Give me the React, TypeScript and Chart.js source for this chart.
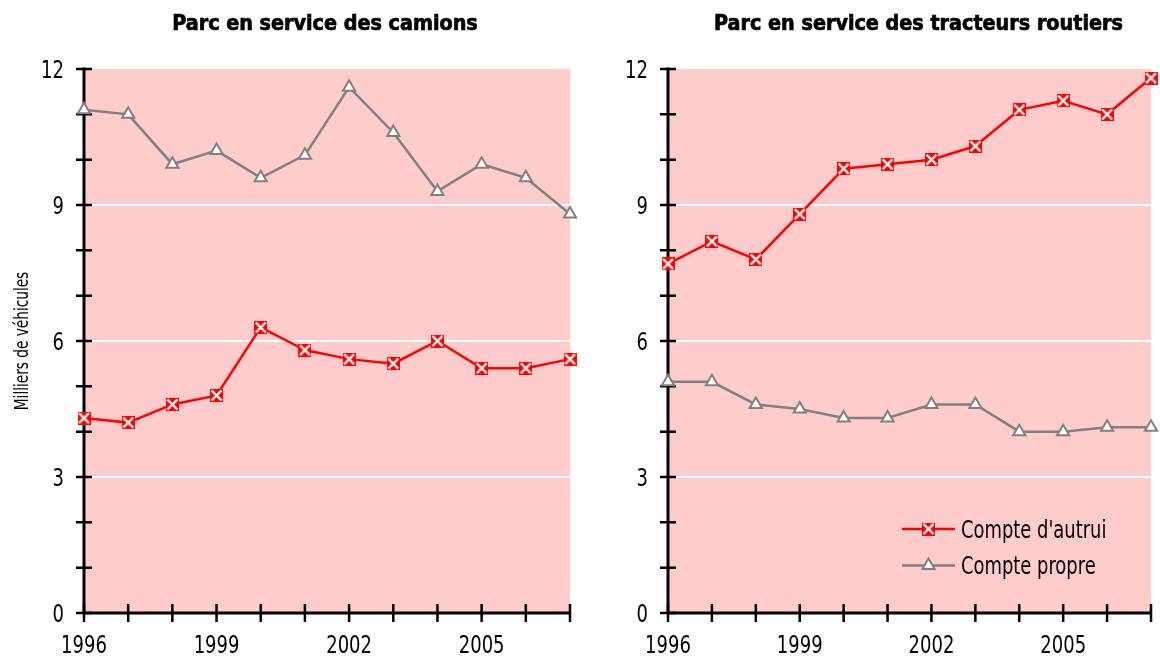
import React, { useEffect, useRef } from 'react';
import { Chart, registerables } from 'chart.js';

Chart.register(...registerables);

// ---- Data ----
const years = ['1996', '1997', '1998', '1999', '2000', '2001', '2002', '2003', '2004', '2005', '2006', '2007'];
const xTickLabels = ['1996', '1999', '2002', '2005'];
const yTickLabels = [0, 3, 6, 9, 12];
const seriesLabels = ["Compte d'autrui", 'Compte propre'];

const camionsAutrui = [4.3, 4.2, 4.6, 4.8, 6.3, 5.8, 5.6, 5.5, 6.0, 5.4, 5.4, 5.6];
const camionsPropre = [11.1, 11.0, 9.9, 10.2, 9.6, 10.1, 11.6, 10.6, 9.3, 9.9, 9.6, 8.8];
const tracteursAutrui = [7.7, 8.2, 7.8, 8.8, 9.8, 9.9, 10.0, 10.3, 11.1, 11.3, 11.0, 11.8];
const tracteursPropre = [5.1, 5.1, 4.6, 4.5, 4.3, 4.3, 4.6, 4.6, 4.0, 4.0, 4.1, 4.1];

const titleLeft = 'Parc en service des camions';
const titleRight = 'Parc en service des tracteurs routiers';
const yAxisTitle = 'Milliers de véhicules';

// ---- Styles ----
const FONT = '"DejaVu Sans Condensed", "DejaVu Sans", sans-serif';
const RED = '#ff0000';
const GREY = '#808080';
const PINK = '#ffcccc';

function makeCrossMarker(): HTMLCanvasElement {
  const s = 13;
  const c = document.createElement('canvas');
  c.width = s;
  c.height = s;
  const ctx = c.getContext('2d')!;
  ctx.fillStyle = RED;
  ctx.fillRect(0, 0, s, s);
  ctx.strokeStyle = '#ffffff';
  ctx.lineWidth = 2.4;
  ctx.beginPath();
  ctx.moveTo(1.5, 1.5);
  ctx.lineTo(s - 1.5, s - 1.5);
  ctx.moveTo(s - 1.5, 1.5);
  ctx.lineTo(1.5, s - 1.5);
  ctx.stroke();
  return c;
}

function scaledText(ctx: CanvasRenderingContext2D, text: string, x: number, y: number, align: CanvasTextAlign, sx: number, rot = 0) {
  ctx.save();
  ctx.translate(x, y);
  if (rot) ctx.rotate(rot);
  ctx.scale(sx, 1);
  ctx.textAlign = align;
  ctx.textBaseline = 'alphabetic';
  ctx.fillText(text, 0, 0);
  ctx.restore();
}

const framePlugin = {
  id: 'frame',
  beforeDraw(chart: any) {
    const { ctx, chartArea } = chart;
    ctx.save();
    ctx.fillStyle = PINK;
    ctx.fillRect(chartArea.left, chartArea.top, chartArea.right - chartArea.left, chartArea.bottom - chartArea.top);
    ctx.restore();
  },
  beforeDatasetsDraw(chart: any) {
    const { ctx, chartArea } = chart;
    const xs = chart.scales.x;
    const ys = chart.scales.y;
    const x0 = chartArea.left;
    const y0 = ys.getPixelForValue(0);
    ctx.save();
    ctx.strokeStyle = '#000';
    ctx.lineWidth = 3;
    ctx.beginPath();
    ctx.moveTo(x0, ys.getPixelForValue(ys.max) - 1.5);
    ctx.lineTo(x0, y0);
    ctx.moveTo(x0, y0);
    ctx.lineTo(chartArea.right, y0);
    ctx.stroke();
    ctx.lineWidth = 2.5;
    ctx.beginPath();
    ys.ticks.forEach((t: any) => {
      const py = ys.getPixelForValue(t.value);
      ctx.moveTo(x0 - 8, py);
      ctx.lineTo(x0 + 8, py);
    });
    xs.ticks.forEach((_t: any, i: number) => {
      const px = xs.getPixelForValue(i);
      ctx.moveTo(px, y0 - 9);
      ctx.lineTo(px, y0 + 9);
    });
    ctx.stroke();
    ctx.restore();
  },
  afterDraw(chart: any, _args: any, opts: any) {
    const { ctx, chartArea } = chart;
    const xs = chart.scales.x;
    const ys = chart.scales.y;
    ctx.save();
    ctx.fillStyle = '#000';

    // title
    ctx.font = `bold 22px ${FONT}`;
    ctx.save();
    ctx.translate((chartArea.left + chartArea.right) / 2 + (opts.titleDx || 0), 30);
    ctx.scale(0.97, 1);
    ctx.textAlign = 'center';
    ctx.textBaseline = 'alphabetic';
    ctx.strokeStyle = '#000';
    ctx.lineWidth = 0.7;
    ctx.fillText(opts.title, 0, 0);
    ctx.strokeText(opts.title, 0, 0);
    ctx.restore();

    // tick labels
    ctx.font = `25px ${FONT}`;
    yTickLabels.forEach((v) => {
      scaledText(ctx, String(v), chartArea.left - 20, ys.getPixelForValue(v) + 9, 'right', 0.8);
    });
    const y0 = ys.getPixelForValue(0);
    xTickLabels.forEach((lab) => {
      scaledText(ctx, lab, xs.getPixelForValue(years.indexOf(lab)), y0 + 40, 'center', 0.8);
    });

    // y-axis title
    if (opts.yTitle) {
      ctx.font = `20px ${FONT}`;
      scaledText(ctx, opts.yTitle, 28, (chartArea.top + chartArea.bottom) / 2, 'center', 0.76, -Math.PI / 2);
    }

    if (opts.legend) {
      const ds = chart.data.datasets;
      const lx = chartArea.left + 234;
      const rows = [529, 565.5];
      ds.forEach((d: any, i: number) => {
        const y = rows[i];
        ctx.strokeStyle = d.borderColor;
        ctx.lineWidth = d.borderWidth;
        ctx.beginPath();
        ctx.moveTo(lx, y);
        ctx.lineTo(lx + 53, y);
        ctx.stroke();
        const cx = lx + 26.5;
        if (d.pointStyle instanceof HTMLCanvasElement) {
          ctx.drawImage(d.pointStyle, cx - d.pointStyle.width / 2, y - d.pointStyle.height / 2);
        } else {
          const r = d.pointRadius;
          ctx.fillStyle = '#fff';
          ctx.strokeStyle = d.pointBorderColor;
          ctx.lineWidth = d.pointBorderWidth;
          ctx.beginPath();
          for (let k = 0; k < 3; k++) {
            const a = (k * 2 * Math.PI) / 3;
            const px = cx + Math.sin(a) * r;
            const py = y - Math.cos(a) * r;
            if (k === 0) ctx.moveTo(px, py);
            else ctx.lineTo(px, py);
          }
          ctx.closePath();
          ctx.fill();
          ctx.stroke();
        }
        ctx.fillStyle = '#000';
        ctx.font = `24px ${FONT}`;
        scaledText(ctx, d.label, lx + 59, y + 8.5, 'left', 0.83);
      });
    }
    ctx.restore();
  },
};

function buildConfig(autrui: number[], propre: number[], title: string, isLeft: boolean): any {
  const cross = makeCrossMarker();
  return {
    type: 'line',
    data: {
      labels: years,
      datasets: [
        {
          label: seriesLabels[0],
          data: autrui,
          borderColor: RED,
          backgroundColor: RED,
          borderWidth: 2.5,
          pointStyle: cross,
          pointRadius: 6.5,
          tension: 0,
          clip: false,
        },
        {
          label: seriesLabels[1],
          data: propre,
          borderColor: GREY,
          backgroundColor: '#ffffff',
          borderWidth: 2.5,
          pointStyle: 'triangle',
          pointRadius: 7,
          pointBorderColor: GREY,
          pointBackgroundColor: '#ffffff',
          pointBorderWidth: 2,
          tension: 0,
          clip: false,
        },
      ],
    },
    plugins: [framePlugin],
    options: {
      responsive: false,
      animation: false,
      events: [],
      layout: { padding: { left: 0, right: isLeft ? 10 : 3, top: 69, bottom: 0 } },
      plugins: {
        legend: { display: false },
        tooltip: { enabled: false },
        title: { display: false },
        frame: { title, legend: !isLeft, titleDx: isLeft ? -2 : 9, yTitle: isLeft ? yAxisTitle : '' },
      },
      scales: {
        x: {
          type: 'category',
          offset: false,
          grid: { display: false, drawTicks: false },
          border: { display: false },
          afterFit: (s: any) => {
            s.height = 44;
          },
          ticks: { display: false, autoSkip: false, padding: 0 },
        },
        y: {
          min: 0,
          max: 12,
          afterFit: (s: any) => {
            s.width = isLeft ? 84 : 88;
          },
          grid: {
            drawTicks: false,
            lineWidth: 2,
            color: (c: any) => {
              const v = c.tick ? c.tick.value : 0;
              return v > 0 && v < 12 && yTickLabels.includes(v) ? '#ffffff' : 'rgba(0,0,0,0)';
            },
          },
          border: { display: false },
          ticks: { display: false, stepSize: 1, padding: 0 },
        },
      },
    },
  };
}

function LineChart(props: { autrui: number[]; propre: number[]; title: string; isLeft: boolean }) {
  const ref = useRef<HTMLCanvasElement>(null);
  useEffect(() => {
    const chart = new Chart(ref.current!, buildConfig(props.autrui, props.propre, props.title, props.isLeft));
    return () => chart.destroy();
  }, []);
  return <canvas ref={ref} width={580} height={657} style={{ display: 'block', width: 580, height: 657 }} />;
}

export default function App() {
  return (
    <div style={{ position: 'absolute', left: 0, top: 0, width: 1160, height: 657, background: '#fff', display: 'flex', overflow: 'hidden' }}>
      <LineChart autrui={camionsAutrui} propre={camionsPropre} title={titleLeft} isLeft={true} />
      <LineChart autrui={tracteursAutrui} propre={tracteursPropre} title={titleRight} isLeft={false} />
    </div>
  );
}
